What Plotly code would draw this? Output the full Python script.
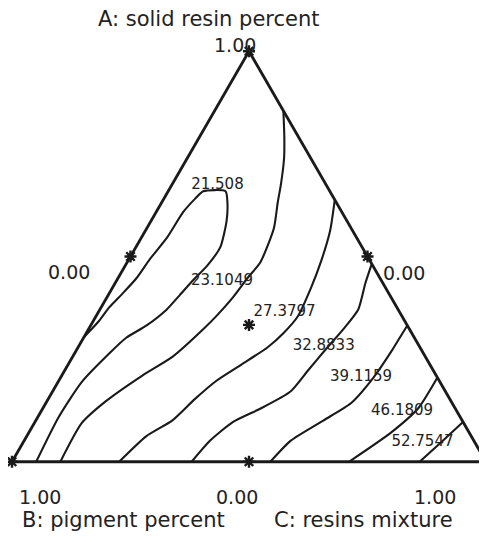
import plotly.graph_objects as go

# ---- data (mixture compositions: A = solid resin, C = resins mixture, B = 1 - A - C) ----
contour_levels = ["21.508", "23.1049", "27.3797", "32.8833", "39.1159", "46.1809", "52.7547"]

l1_a = [0.304, 0.343, 0.376, 0.412, 0.447, 0.493, 0.546, 0.608, 0.641, 0.659, 0.659, 0.631, 0.585,
        0.523, 0.477, 0.442, 0.406, 0.371, 0.332, 0.302, 0.263, 0.194, 0.108, 0.0]
l1_c = [0.0, 0.012, 0.017, 0.029, 0.039, 0.044, 0.054, 0.057, 0.066, 0.074, 0.121, 0.139, 0.160,
        0.178, 0.173, 0.161, 0.151, 0.141, 0.118, 0.090, 0.073, 0.050, 0.044, 0.051]

l2_a = [0.855, 0.793, 0.740, 0.677, 0.631, 0.569, 0.486, 0.447, 0.401, 0.359, 0.325, 0.256, 0.210,
        0.147, 0.094, 0.0]
l2_c = [0.145, 0.178, 0.204, 0.229, 0.245, 0.268, 0.281, 0.273, 0.266, 0.255, 0.243, 0.211, 0.170,
        0.124, 0.100, 0.102]

l3_a = [0.638, 0.562, 0.488, 0.424, 0.355, 0.313, 0.279, 0.235, 0.198, 0.152, 0.101, 0.062, 0.0]
l3_c = [0.362, 0.390, 0.408, 0.419, 0.426, 0.416, 0.400, 0.364, 0.333, 0.309, 0.288, 0.252, 0.226]

l4_a = [0.482, 0.435, 0.371, 0.325, 0.274, 0.221, 0.171, 0.129, 0.097, 0.051, 0.0]
l4_c = [0.518, 0.528, 0.545, 0.538, 0.525, 0.513, 0.502, 0.459, 0.418, 0.392, 0.379]

l5_a = [0.332, 0.302, 0.270, 0.205, 0.143, 0.101, 0.051, 0.0]
l5_c = [0.668, 0.667, 0.666, 0.660, 0.644, 0.607, 0.562, 0.545]

l6_a = [0.205, 0.131, 0.071, 0.0]
l6_c = [0.795, 0.792, 0.764, 0.711]

l7_a = [0.097, 0.048, 0.0]
l7_c = [0.903, 0.882, 0.860]

label_a = [0.673, 0.440, 0.364, 0.281, 0.205, 0.124, 0.048]
label_c = [0.097, 0.223, 0.393, 0.517, 0.634, 0.761, 0.842]

design_a = [1.0, 0.0, 0.0, 0.5, 0.5, 0.0, 1 / 3]
design_b = [0.0, 1.0, 0.0, 0.5, 0.0, 0.5, 1 / 3]
design_c = [0.0, 0.0, 1.0, 0.0, 0.5, 0.5, 1 / 3]

axis_titles = ["A: solid resin percent", "B: pigment percent", "C: resins mixture"]
vertex_label = "1.00"
edge_label = "0.00"

# ---- figure ----
W, H = 487, 547
OFF = 8  # default page margin of the html body
ML, MT = 12 - OFF, 51 - OFF
PW, PH = 474, 411
MR = W - ML - PW
MB = H - MT - PH

INK = "#1a1a1a"
FONT = "DejaVu Sans"

fig = go.Figure()

lines_a = [l1_a, l2_a, l3_a, l4_a, l5_a, l6_a, l7_a]
lines_c = [l1_c, l2_c, l3_c, l4_c, l5_c, l6_c, l7_c]
for lev, aa, cc in zip(contour_levels, lines_a, lines_c):
    bb = [max(0.0, 1 - x - y) for x, y in zip(aa, cc)]
    fig.add_trace(go.Scatterternary(
        a=aa, b=bb, c=cc, mode="lines", name=lev,
        line=dict(color=INK, width=2.1, shape="spline", smoothing=0.6),
        hoverinfo="skip", showlegend=False))

label_b = [1 - x - y for x, y in zip(label_a, label_c)]
fig.add_trace(go.Scatterternary(
    a=label_a, b=label_b, c=label_c, mode="text", text=contour_levels,
    textfont=dict(family=FONT, size=15, color="#222222"),
    hoverinfo="skip", showlegend=False))

fig.add_trace(go.Scatterternary(
    a=design_a, b=design_b, c=design_c, mode="markers",
    marker=dict(symbol="asterisk-open", size=10, color=INK,
                line=dict(color=INK, width=2.4)),
    cliponaxis=False, hoverinfo="skip", showlegend=False))

axis_style = dict(showticklabels=False, ticks="", showgrid=False, showline=True,
                  linecolor=INK, linewidth=2.8, title=dict(text=""), min=0)
fig.update_layout(
    width=W, height=H,
    margin=dict(l=ML, r=MR, t=MT, b=MB),
    paper_bgcolor="white",
    font=dict(family=FONT, color="#222222"),
    ternary=dict(sum=1, bgcolor="white",
                 domain=dict(x=[0, 1], y=[0, 1]),
                 aaxis=axis_style, baxis=axis_style, caxis=axis_style),
    showlegend=False,
)


def pos(x, y):
    # x, y: on-screen position (pixels) of the label centre
    x, y = x - OFF, y - OFF
    return dict(x=(x - ML) / PW, y=(H - MB - y) / PH, xref="paper", yref="paper",
                xanchor="center", yanchor="middle", showarrow=False)


annos = [
    (axis_titles[0], 209, 19, 21),
    (vertex_label, 235, 45, 19),
    (edge_label, 69, 272, 19),
    (edge_label, 404, 273, 19),
    (vertex_label, 40, 497, 19),
    (edge_label, 237, 497, 19),
    (vertex_label, 435, 497, 19),
    (axis_titles[1], 123, 520, 21),
    (axis_titles[2], 363, 520, 21),
]
for txt, x, y, s in annos:
    fig.add_annotation(text=txt, font=dict(family=FONT, size=s, color="#222222"), **pos(x, y))

fig.write_html("out.html")
